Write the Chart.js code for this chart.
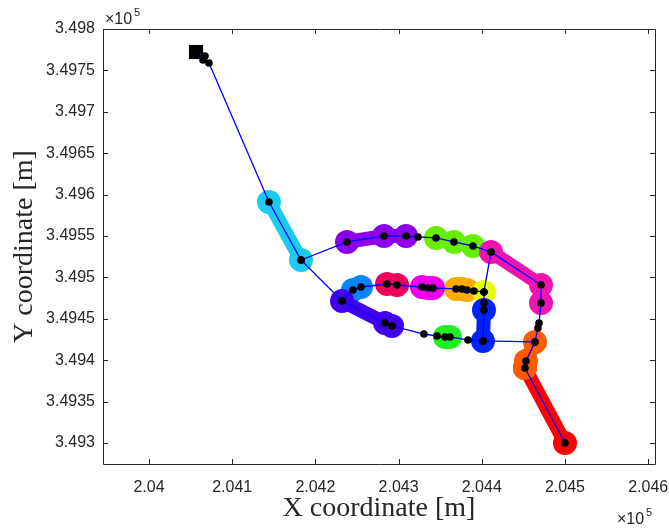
<!DOCTYPE html>
<html>
<head>
<meta charset="utf-8">
<script src="https://cdn.jsdelivr.net/npm/chart.js@4.4.0/dist/chart.umd.min.js"></script>
<style>
  body { margin: 0; background: #fff; }
  canvas { display: block; }
</style>
</head>
<body>
<canvas id="chart" width="669" height="530"></canvas>
<script>
// trajectory (m), null = break between branches
const trackX = [
  204056.5, 204067.3, 204064.9, 204072.1, 204144.2, 204182.7, 204238.0, 204282.5, 204308.9, 204323.3,
  204345.0, 204366.6, 204389.4, 204411.1, 204471.2, 204471.2, 204468.8, 204467.5, 204463.9, 204453.1,
  204451.9, 204500.0, null,
  204182.7, 204232.0, 204283.7, 204292.1, 204330.5, 204346.2, 204355.8, 204361.8, 204383.4, 204401.4,
  204463.9, null,
  204232.0, 204245.2, 204254.8, 204286.1, 204298.1, 204328.1, 204335.3, 204341.3, 204369.0, 204376.2,
  204382.2, 204390.6, 204402.6, 204402.6, 204402.6, 204401.4, null,
  204411.1, 204402.6,
];
const trackY = [
  349772.2, 349767.4, 349762.6, 349758.9, 349591.1, 349521.0, 349542.8, 349550.0, 349550.0, 349548.8,
  349547.6, 349542.8, 349537.9, 349530.7, 349490.8, 349469.1, 349444.9, 349438.9, 349422.0, 349399.0,
  349390.6, 349300.0, null,
  349521.0, 349471.5, 349444.9, 349441.3, 349431.6, 349429.2, 349428.0, 349428.0, 349424.4, 349423.2,
  349422.0, null,
  349471.5, 349484.8, 349488.4, 349492.0, 349490.8, 349488.4, 349487.2, 349487.2, 349486.0, 349486.0,
  349484.8, 349483.6, 349482.4, 349469.1, 349460.6, 349423.2, null,
  349530.7, 349482.4,
];

// coloured segments: indexes into the track, listed bottom to top
const segPoints = [
  [20, 21], [18, 19, 20], [43, 44, 45], [47], [49, 50], [10, 11, 12], [13, 14, 15],
  [6, 7, 8], [4, 5], [36, 37], [24, 25, 26], [38, 39], [40, 41, 42], [29, 30],
];
const segColors = [
  "#ff0000", "#ff5a00", "#ffaa00", "#e8ff00", "#0022ff", "#66ee00", "#ee14b0",
  "#8c00ec", "#1ecbf0", "#0a84ff", "#4000ee", "#ee0060", "#ee00ee", "#22ee22",
];

const xTicks = [204000, 204100, 204200, 204300, 204400, 204500, 204600];
const yTicks = [349300, 349350, 349400, 349450, 349500, 349550, 349600, 349650, 349700, 349750, 349800];

const axisColor = "#262626";
const fmt = (v) => parseFloat((v / 1e5).toFixed(5)).toString();

const axesBox = {
  id: "axesBox",
  afterDraw(chart) {
    const c = chart.ctx;
    const a = chart.chartArea;
    const sx = chart.scales.x;
    const sy = chart.scales.y;
    c.save();
    c.strokeStyle = axisColor;
    c.lineWidth = 1;
    c.beginPath();
    c.rect(Math.round(a.left) + 0.5, Math.round(a.top) + 0.5, Math.round(a.right - a.left), Math.round(a.bottom - a.top));
    xTicks.forEach((v) => {
      const px = Math.round(sx.getPixelForValue(v)) + 0.5;
      c.moveTo(px, a.bottom); c.lineTo(px, a.bottom - 5);
      c.moveTo(px, a.top); c.lineTo(px, a.top + 5);
    });
    yTicks.forEach((v) => {
      const py = Math.round(sy.getPixelForValue(v)) + 0.5;
      c.moveTo(a.left, py); c.lineTo(a.left + 5, py);
      c.moveTo(a.right, py); c.lineTo(a.right - 5, py);
    });
    c.stroke();

    // exponent labels
    c.fillStyle = axisColor;
    c.textBaseline = "alphabetic";
    c.textAlign = "left";
    c.font = "16px 'Liberation Sans'";
    c.fillText("\u00d710", a.left + 2, a.top - 5);
    c.font = "11px 'Liberation Sans'";
    c.fillText("5", a.left + 31, a.top - 13);
    c.font = "16px 'Liberation Sans'";
    c.fillText("\u00d710", a.right - 38, 524);
    c.font = "11px 'Liberation Sans'";
    c.fillText("5", a.right - 9, 516);

    // axis titles
    c.font = "28px 'Liberation Serif'";
    c.textAlign = "center";
    c.fillText("X coordinate [m]", (a.left + a.right) / 2, 516);
    c.translate(32, (a.top + a.bottom) / 2);
    c.rotate(-Math.PI / 2);
    c.fillText("Y coordinate [m]", 0, 0);
    c.restore();
  },
};

document.addEventListener("DOMContentLoaded", () => {
  const ctx = document.getElementById("chart").getContext("2d");
  const track = trackX.map((x, i) => ({ x: x, y: trackY[i] }));

  let datasets = [];

  datasets.push({
    data: track,
    showLine: true,
    borderColor: "#0000ff",
    borderWidth: 1.3,
    pointRadius: 3.8,
    pointBackgroundColor: "#000",
    pointBorderWidth: 0,
    spanGaps: false,
    order: 0,
  });

  // start marker
  datasets.push({
    data: [track[0]],
    pointStyle: "rect",
    pointRadius: 10,
    pointBackgroundColor: "#000",
    pointBorderWidth: 0,
    order: 1,
  });

  segPoints.forEach((idx, i) => {
    datasets.push({
      data: idx.map((k) => track[k]),
      showLine: true,
      borderColor: segColors[i],
      borderWidth: 14,
      pointRadius: 12,
      pointBackgroundColor: segColors[i],
      pointBorderWidth: 0,
      order: 100 - i,
    });
  });

  new Chart(ctx, {
    type: "scatter",
    data: { datasets: datasets },
    options: {
      responsive: false,
      animation: false,
      events: [],
      layout: { padding: { left: 0, top: 29, right: 14, bottom: 0 } },
      scales: {
        x: {
          type: "linear",
          min: 203944.7,
          max: 204608.2,
          afterBuildTicks: (s) => { s.ticks = xTicks.map((v) => ({ value: v })); },
          afterFit: (s) => {
            s.height = 66;
            s.paddingLeft = 0;
            s.paddingRight = 0;
          },
          grid: { display: false, drawTicks: false },
          border: { display: false },
          ticks: {
            callback: (v) => fmt(v),
            color: axisColor,
            font: { family: "'Liberation Sans'", size: 16 },
            padding: 14,
            maxRotation: 0,
            autoSkip: false,
          },
        },
        y: {
          type: "linear",
          min: 349274.6,
          max: 349800,
          afterBuildTicks: (s) => { s.ticks = yTicks.map((v) => ({ value: v })); },
          afterFit: (s) => {
            s.width = 103;
            s.paddingTop = 0;
            s.paddingBottom = 0;
          },
          grid: { display: false, drawTicks: false },
          border: { display: false },
          ticks: {
            callback: (v) => fmt(v),
            color: axisColor,
            font: { family: "'Liberation Sans'", size: 16 },
            padding: 8,
            autoSkip: false,
          },
        },
      },
      plugins: {
        legend: { display: false },
        tooltip: { enabled: false },
      },
    },
    plugins: [axesBox],
  });
});
</script>
</body>
</html>
